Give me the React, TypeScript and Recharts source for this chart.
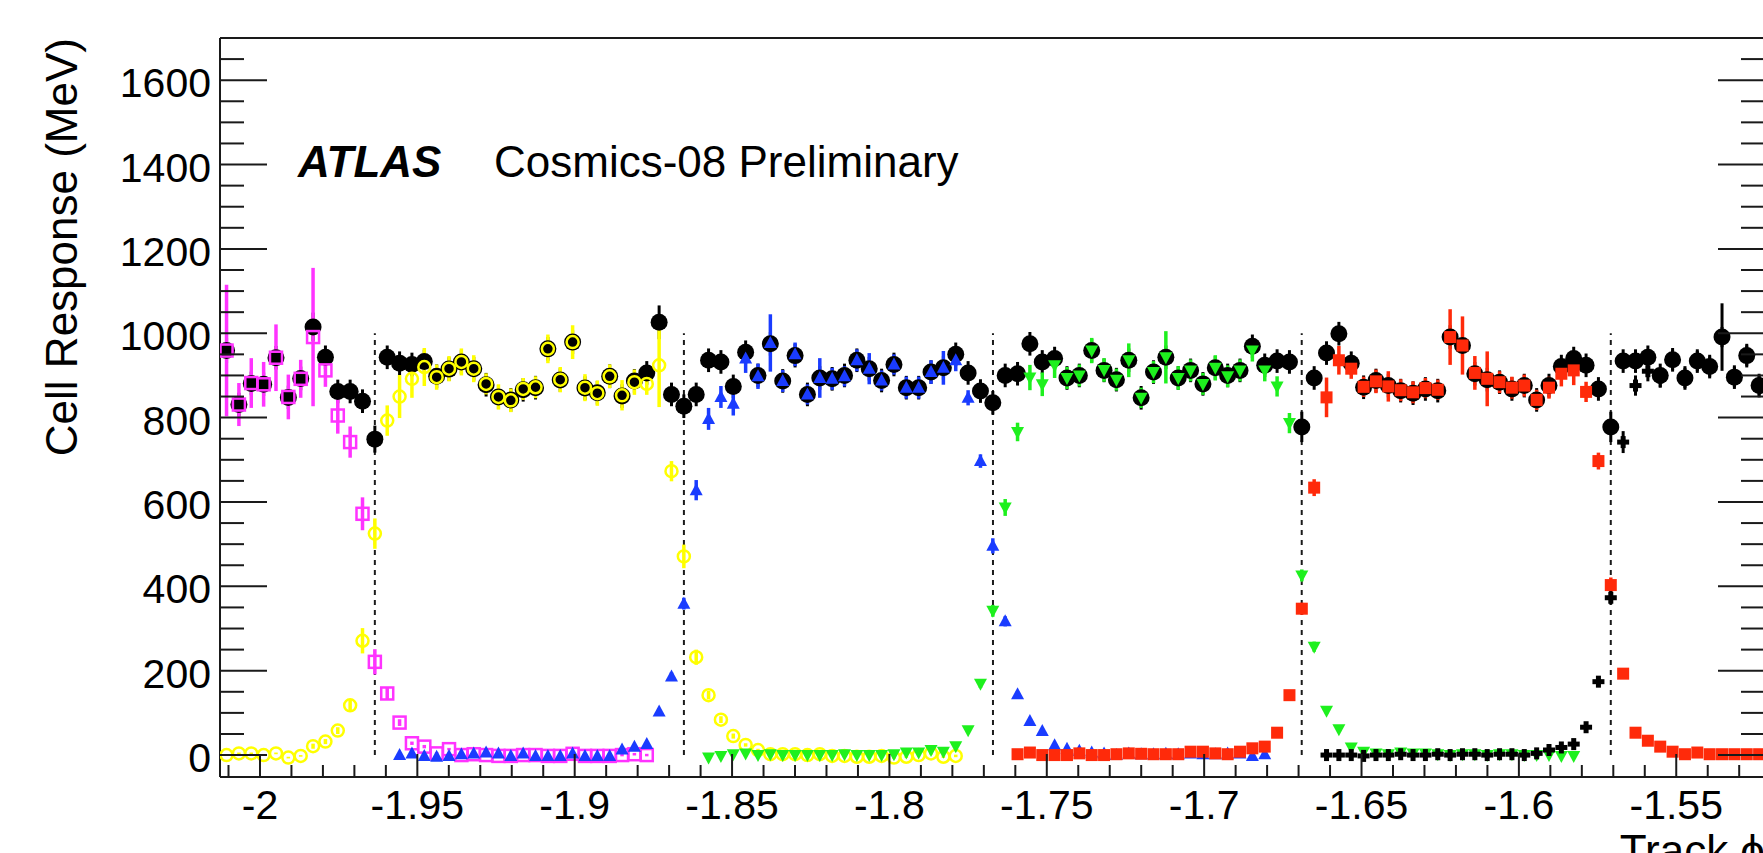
import {
  Customized,
  ErrorBar,
  ReferenceLine,
  Scatter,
  ScatterChart,
  XAxis,
  YAxis,
} from "recharts";

// Tile geometry: 64 modules in phi, 25 track-phi bins per module.
const MODULE_DPHI = (2 * Math.PI) / 64;
const BIN_DPHI = MODULE_DPHI / 25;
const BIN_ORIGIN = -20 * MODULE_DPHI; // bin 0 sits on the module edge at -1.9635

const PHI_MIN = -2.0127;
const PHI_MAX = -1.5218;
const RESP_MIN = -52;
const RESP_MAX = 1700;

const moduleEdges = [-1.9635, -1.8653, -1.7671, -1.669, -1.5708];
const xMajorTicks = [-2, -1.95, -1.9, -1.85, -1.8, -1.75, -1.7, -1.65, -1.6, -1.55];
const yMajorTicks = [0, 200, 400, 600, 800, 1000, 1200, 1400, 1600];
const xMinorTicks = Array.from({ length: 49 }, (_, i) => Math.round((-2.01 + i * 0.01) * 1000) / 1000);
const yMinorTicks = Array.from({ length: 34 }, (_, i) => i * 50);

// all cells summed (big black dots), bins -12 .. 112
const totalFirstBin = -12;
const totalValues = [
  959, 831, 881, 879, 942, 848, 893, 1015, 943, 862, 862, 839,
  749, 943, 929, 926, 933, 898, 915, 932, 916, 878, 849, 842, 866, 871, 963, 889, 979, 870, 859, 898, 851, 887, 906, 1026, 855,
  827, 855, 936, 932, 874, 955, 900, 975, 887, 947, 855, 894, 892, 900, 936, 916, 888, 926, 871, 871, 908, 918, 950, 906, 863,
  835, 900, 904, 975, 932, 940, 894, 900, 959, 912, 890, 936, 847, 908, 943, 894, 912, 880, 918, 900, 912, 969, 924, 934, 932,
  778, 894, 953, 999, 929, 872, 888, 876, 864, 858, 868, 864, 991, 971, 904, 890, 884, 868, 876, 842, 876, 921, 940, 924, 868,
  778, 934, 934, 943, 900, 937, 894, 934, 921, 991, 896, 947, 876,
];
const totalErrDefault = 28;
const totalErrOverrides: Record<number, number> = { [-12]: 30, [-5]: 34, 0: 32, 23: 40, 75: 36, 100: 36, 109: 80 };

// cell A (magenta open squares), bins -12 .. 22
const cellAFirstBin = -12;
const cellAValues = [
  959, 831, 882, 879, 942, 849, 892, 991, 912, 805, 742, 572,
  221, 146, 77, 28, 20, 4, 14, 0, 2, 0, -2, -2, 0, 0, -2, -2, 3, -2, -2, -2, 0, 2, 0,
];
const cellAErrors = [
  156, 51, 59, 53, 79, 53, 45, 164, 39, 43, 37, 39,
  30, 14, 8, 4, 4, 3, 3, 3, 3, 3, 3, 3, 3, 3, 3, 3, 3, 3, 3, 3, 3, 3, 3,
];

// cell B (yellow open circles), bins -12 .. 47
const cellBFirstBin = -12;
const cellBValues = [
  0, 4, 4, 0, 4, -6, -2, 21, 32, 58, 118, 271,
  525, 793, 850, 892, 920, 896, 916, 932, 916, 880, 849, 841, 868, 872, 963, 890, 979, 871, 858, 898, 853, 884, 880, 924, 673,
  471, 232, 142, 84, 45, 24, 12, 2, 2, 2, 0, 2, -2, -2, -4, -4, -2, -6, -4, 0, 4, -4, -2,
];
const cellBErrors = [
  2, 2, 2, 2, 2, 2, 2, 6, 6, 8, 14, 30,
  36, 36, 51, 45, 45, 30, 30, 32, 32, 25, 30, 28, 26, 26, 34, 30, 40, 32, 30, 28, 36, 30, 26, 99, 24,
  28, 18, 10, 8, 6, 4, 3, 3, 3, 3, 3, 3, 3, 3, 3, 3, 3, 3, 3, 3, 3, 3, 3,
];

// cell C (blue triangles), bins 2 .. 72
const cellCFirstBin = 2;
const cellCValues = [
  0, 4, -2, -4, -2, 2, 4, 6, 4, -2, 4, -2, -2, -2, 4, -2, -2, -2, 13, 20, 26, 103, 186,
  359, 628, 797, 849, 833, 940, 898, 977, 887, 950, 855, 894, 892, 898, 936, 916, 888, 926, 871, 871, 908, 918, 936, 847, 697,
  496, 317, 144, 81, 57, 23, 15, 10, 6, 4, 0, 4, 2, 2, 3, 2, 4, 2, 2, 4, 4, -2, 2,
];
const cellCErrors = [
  3, 3, 3, 3, 3, 3, 3, 3, 3, 3, 3, 3, 3, 3, 3, 3, 3, 3, 4, 4, 4, 8, 10,
  14, 24, 26, 26, 28, 34, 30, 68, 26, 28, 24, 47, 26, 24, 26, 37, 24, 24, 26, 26, 28, 40, 26, 18, 16,
  18, 12, 8, 6, 3, 3, 3, 3, 3, 3, 3, 3, 3, 3, 3, 3, 3, 3, 3, 3, 3,
];

// cell D (green triangles), bins 27 .. 97
const cellDFirstBin = 27;
const cellDValues = [
  -6, -2, 2, 4, 0, 2, 0, 0, 0, 0, 0, 2, 0, 0, 0, 2, 6, 6, 12, 8, 21, 59, 169,
  342, 587, 766, 895, 879, 924, 894, 900, 959, 913, 890, 936, 847, 908, 943, 894, 912, 880, 918, 898, 912, 959, 912, 874, 787,
  426, 257, 105, 61, 18, 8, 4, 2, 6, 4, 4, 2, 0, 2, 2, 0, 2, 2, 0, 0, 0, -2, -2,
];
const cellDErrors = [
  3, 3, 3, 3, 3, 3, 3, 3, 3, 3, 3, 3, 3, 3, 3, 3, 3, 3, 3, 3, 4, 6, 10,
  14, 20, 22, 30, 28, 30, 26, 26, 30, 28, 26, 40, 24, 26, 62, 28, 26, 26, 30, 26, 26, 26, 26, 24, 24,
  14, 12, 8, 6, 3, 3, 3, 3, 3, 3, 3, 3, 3, 3, 3, 3, 3, 3, 3, 3, 3,
];

// cell E (red squares), bins 52 .. 112
const cellEFirstBin = 52;
const cellEValues = [
  2, 6, 0, 0, 0, 4, 0, 0, 2, 4, 3, 2, 2, 2, 8, 8, 4, 2, 8, 16, 20, 53, 142,
  347, 634, 848, 936, 916, 873, 886, 874, 865, 860, 870, 866, 991, 971, 906, 892, 884, 871, 876, 842, 871, 904, 912, 861, 697,
  403, 193, 53, 34, 20, 8, 2, 6, 2, 2, 2, 2, 2,
];
const cellEErrors = [
  3, 3, 3, 3, 3, 3, 3, 3, 3, 3, 3, 3, 3, 3, 3, 3, 3, 3, 3, 3, 3, 6, 8,
  14, 20, 47, 34, 24, 24, 28, 36, 26, 26, 24, 24, 66, 69, 40, 65, 26, 26, 26, 24, 26, 30, 35, 24, 20,
  18, 12, 6, 3, 3, 3, 3, 3, 3, 3, 3, 3, 3,
];

// cell F (small black crosses), bins 77 .. 112
const cellFFirstBin = 77;
const cellFValues = [
  0, 0, 0, -2, 0, 0, 2, 0, 0, 2, 0, 2, 2, 0, 2, 2, 0, 4, 12, 18, 26, 66, 174,
  373, 742, 876, 910, 895, 937, 894, 934, 921, 991, 896, 947, 876,
];
const cellFErrors = [
  3, 3, 3, 3, 3, 3, 3, 3, 3, 3, 3, 3, 3, 3, 3, 3, 3, 3, 3, 3, 3, 6, 10,
  16, 26, 24, 24, 24, 24, 24, 24, 24, 24, 24, 24, 24,
];

const FRAME = "#1a1a1a";
const FONT = '"Liberation Sans", Arial, Helvetica, sans-serif';
const PINK = "#ff33ff";
const YELLOW = "#ffff00";
const BLUE = "#1a3cff";
const GREEN = "#1ef01e";
const RED = "#ff2a0a";

type Pt = { x: number; y: number; err: number };

function toPoints(firstBin: number, values: number[], errors: number[]): Pt[] {
  return values.map((y, i) => ({ x: BIN_ORIGIN + (firstBin + i) * BIN_DPHI, y, err: errors[i] }));
}

const totalPoints = toPoints(
  totalFirstBin,
  totalValues,
  totalValues.map((_, i) => totalErrOverrides[totalFirstBin + i] ?? totalErrDefault),
);
const cellAPoints = toPoints(cellAFirstBin, cellAValues, cellAErrors);
const cellBPoints = toPoints(cellBFirstBin, cellBValues, cellBErrors);
const cellCPoints = toPoints(cellCFirstBin, cellCValues, cellCErrors);
const cellDPoints = toPoints(cellDFirstBin, cellDValues, cellDErrors);
const cellEPoints = toPoints(cellEFirstBin, cellEValues, cellEErrors);
const cellFPoints = toPoints(cellFFirstBin, cellFValues, cellFErrors);

const isMajor = (v: number, majors: number[]) => majors.some((m) => Math.abs(m - v) < 1e-6);

// ROOT-style frame ticks drawn inward; labels outside on bottom/left
function BottomTick({ x, y, payload }: any) {
  const major = isMajor(payload.value, xMajorTicks);
  return (
    <g>
      <line x1={x} y1={y} x2={x} y2={y - (major ? 23 : 12)} stroke={FRAME} strokeWidth={2} />
      {major && (
        <text x={x} y={y + 42} textAnchor="middle" fontSize={41} fontFamily={FONT} fill="#000">
          {String(payload.value)}
        </text>
      )}
    </g>
  );
}

function TopTick({ x, y, payload }: any) {
  const major = isMajor(payload.value, xMajorTicks);
  return <line x1={x} y1={y} x2={x} y2={y + (major ? 23 : 12)} stroke={FRAME} strokeWidth={2} />;
}

function LeftTick({ x, y, payload }: any) {
  const major = isMajor(payload.value, yMajorTicks);
  return (
    <g>
      <line x1={x} y1={y} x2={x + (major ? 47 : 24)} y2={y} stroke={FRAME} strokeWidth={2} />
      {major && (
        <text x={x - 9} y={y + 17} textAnchor="end" fontSize={41} fontFamily={FONT} fill="#000">
          {String(payload.value)}
        </text>
      )}
    </g>
  );
}

function RightTick({ x, y, payload }: any) {
  const major = isMajor(payload.value, yMajorTicks);
  return <line x1={x} y1={y} x2={x - (major ? 47 : 24)} y2={y} stroke={FRAME} strokeWidth={2} />;
}

const totalDot = ({ cx = 0, cy = 0 }: any) => <circle cx={cx} cy={cy} r={8.5} fill="#000" />;
const openSquare = ({ cx = 0, cy = 0 }: any) => (
  <rect x={cx - 6} y={cy - 6} width={12} height={12} fill="none" stroke={PINK} strokeWidth={2.5} />
);
const openCircle = ({ cx = 0, cy = 0 }: any) => (
  <circle cx={cx} cy={cy} r={6} fill="none" stroke={YELLOW} strokeWidth={2.5} />
);
const upTriangle = ({ cx = 0, cy = 0 }: any) => (
  <polygon points={`${cx},${cy - 7} ${cx + 6.5},${cy + 5} ${cx - 6.5},${cy + 5}`} fill={BLUE} />
);
const downTriangle = ({ cx = 0, cy = 0 }: any) => (
  <polygon points={`${cx},${cy + 7} ${cx + 6.5},${cy - 5} ${cx - 6.5},${cy - 5}`} fill={GREEN} />
);
const filledSquare = ({ cx = 0, cy = 0 }: any) => (
  <rect x={cx - 6} y={cy - 6} width={12} height={12} fill={RED} />
);
const filledCross = ({ cx = 0, cy = 0 }: any) => (
  <g fill="#000">
    <rect x={cx - 6} y={cy - 2.5} width={12} height={5} />
    <rect x={cx - 2.5} y={cy - 6} width={5} height={12} />
  </g>
);

function Annotations() {
  return (
    <g fontFamily={FONT} fill="#000">
      <text x={298} y={177} fontSize={44} fontWeight="bold" fontStyle="italic">
        ATLAS
      </text>
      <text x={494} y={177} fontSize={44}>
        Cosmics-08 Preliminary
      </text>
      <text transform="translate(77,38) rotate(-90)" textAnchor="end" fontSize={44}>
        Cell Response (MeV)
      </text>
      <text x={1765} y={866} textAnchor="end" fontSize={44}>
        Track ϕ
      </text>
    </g>
  );
}

const series = [
  { name: "all cells", data: totalPoints, shape: totalDot, color: "#000", bar: 3 },
  { name: "cell A", data: cellAPoints, shape: openSquare, color: PINK, bar: 3.5 },
  { name: "cell B", data: cellBPoints, shape: openCircle, color: YELLOW, bar: 3.5 },
  { name: "cell C", data: cellCPoints, shape: upTriangle, color: BLUE, bar: 3.5 },
  { name: "cell D", data: cellDPoints, shape: downTriangle, color: GREEN, bar: 3.5 },
  { name: "cell E", data: cellEPoints, shape: filledSquare, color: RED, bar: 3.5 },
  { name: "cell F", data: cellFPoints, shape: filledCross, color: "#000", bar: 3 },
];

export default function App() {
  return (
    <div
      style={{
        position: "fixed",
        left: 0,
        top: 0,
        width: 1763,
        height: 853,
        overflow: "hidden",
        background: "#fff",
      }}
    >
      <ScatterChart width={1800} height={853} margin={{ top: 37, right: 34, bottom: 75, left: 219 }}>
        <XAxis
          xAxisId="x"
          dataKey="x"
          type="number"
          orientation="bottom"
          height={1}
          domain={[PHI_MIN, PHI_MAX]}
          allowDataOverflow
          ticks={xMinorTicks}
          interval={0}
          tickSize={0}
          tickMargin={0}
          tickLine={false}
          tick={BottomTick}
          axisLine={{ stroke: FRAME, strokeWidth: 2 }}
        />
        <XAxis
          xAxisId="xTop"
          type="number"
          orientation="top"
          height={1}
          domain={[PHI_MIN, PHI_MAX]}
          allowDataOverflow
          ticks={xMinorTicks}
          interval={0}
          tickSize={0}
          tickMargin={0}
          tickLine={false}
          tick={TopTick}
          axisLine={{ stroke: FRAME, strokeWidth: 2 }}
        />
        <YAxis
          yAxisId="y"
          dataKey="y"
          type="number"
          orientation="left"
          width={1}
          domain={[RESP_MIN, RESP_MAX]}
          allowDataOverflow
          ticks={yMinorTicks}
          interval={0}
          tickSize={0}
          tickMargin={0}
          tickLine={false}
          tick={LeftTick}
          axisLine={{ stroke: FRAME, strokeWidth: 2 }}
        />
        <YAxis
          yAxisId="yRight"
          type="number"
          orientation="right"
          width={1}
          domain={[RESP_MIN, RESP_MAX]}
          allowDataOverflow
          ticks={yMinorTicks}
          interval={0}
          tickSize={0}
          tickMargin={0}
          tickLine={false}
          tick={RightTick}
          axisLine={{ stroke: FRAME, strokeWidth: 2 }}
        />

        {moduleEdges.map((phi) => (
          <ReferenceLine
            key={phi}
            xAxisId="x"
            yAxisId="y"
            segment={[
              { x: phi, y: 0 },
              { x: phi, y: 1000 },
            ]}
            stroke={FRAME}
            strokeWidth={2}
            strokeDasharray="5 5"
          />
        ))}

        {series.map((s) => (
          <Scatter
            key={s.name}
            name={s.name}
            data={s.data}
            xAxisId="x"
            yAxisId="y"
            shape={s.shape}
            isAnimationActive={false}
          >
            <ErrorBar
              dataKey="err"
              direction="y"
              width={0}
              stroke={s.color}
              strokeWidth={s.bar}
              isAnimationActive={false}
            />
          </Scatter>
        ))}

        <Customized component={Annotations} />
      </ScatterChart>
    </div>
  );
}
